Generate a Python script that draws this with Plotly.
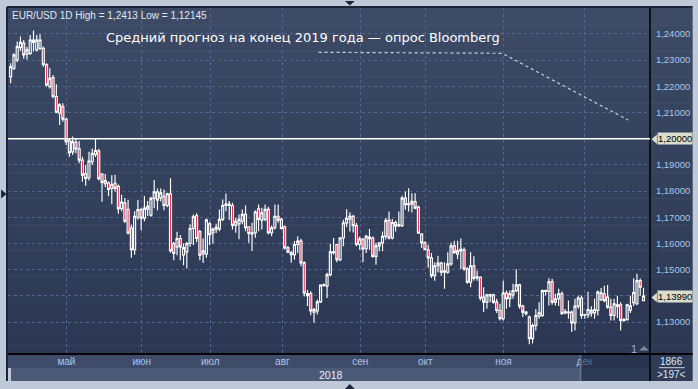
import plotly.graph_objects as go

# ---- data (EUR/USD daily, Apr-Dec 2018) ----
opens = [1.2237,1.2269,1.2301,1.2348,1.2365,1.2323,1.2326,1.2377,1.2339,1.2345,
         1.2345,1.2282,1.2199,1.2233,1.2161,1.2097,1.2122,1.2075,1.1992,1.1950,
         1.1986,1.1961,1.1918,1.1867,1.1851,1.1912,1.1940,1.1953,1.1865,1.1828,
         1.1832,1.1810,1.1830,1.1818,1.1733,1.1755,1.1730,1.1659,1.1576,1.1700,
         1.1729,1.1697,1.1731,1.1708,1.1772,1.1797,1.1774,1.1780,1.1745,1.1790,
         1.1600,1.1587,1.1619,1.1556,1.1568,1.1600,1.1657,1.1706,1.1645,1.1560,
         1.1560,1.1675,1.1640,1.1655,1.1656,1.1692,1.1745,1.1750,1.1745,1.1669,
         1.1675,1.1685,1.1711,1.1664,1.1636,1.1641,1.1732,1.1689,1.1692,1.1730,
         1.1641,1.1660,1.1704,1.1692,1.1664,1.1583,1.1564,1.1557,1.1596,1.1609,
         1.1526,1.1409,1.1409,1.1338,1.1342,1.1377,1.1440,1.1437,1.1481,1.1565,
         1.1596,1.1538,1.1621,1.1678,1.1693,1.1704,1.1668,1.1596,1.1617,1.1580,
         1.1618,1.1621,1.1551,1.1591,1.1602,1.1627,1.1688,1.1621,1.1680,1.1667,
         1.1668,1.1773,1.1748,1.1750,1.1760,1.1739,1.1636,1.1602,1.1576,1.1545,
         1.1477,1.1515,1.1525,1.1490,1.1490,1.1522,1.1591,1.1559,1.1572,1.1576,
         1.1503,1.1452,1.1515,1.1468,1.1471,1.1395,1.1376,1.1400,1.1404,1.1376,
         1.1344,1.1313,1.1411,1.1389,1.1404,1.1420,1.1442,1.1361,1.1338,1.1319,
         1.1237,1.1287,1.1322,1.1325,1.1420,1.1417,1.1454,1.1376,1.1389,1.1408,
         1.1335,1.1336,1.1338,1.1297,1.1361,1.1392,1.1326,1.1328,1.1335,1.1335,
         1.1344,1.1385,1.1408,1.1395,1.1357,1.1325,1.1360,1.1366,1.1306,1.1309,
         1.1345,1.1374,1.1370,1.1458,1.1382]
highs = [1.2288,1.2326,1.2371,1.2390,1.2377,1.2350,1.2396,1.2413,1.2396,1.2399,
         1.2352,1.2288,1.2269,1.2243,1.2208,1.2135,1.2135,1.2078,1.2002,1.2008,
         1.2002,1.1991,1.1931,1.1900,1.1950,1.1963,1.2000,1.1962,1.1868,1.1865,
         1.1837,1.1860,1.1862,1.1825,1.1786,1.1774,1.1767,1.1672,1.1723,1.1766,
         1.1735,1.1781,1.1762,1.1778,1.1842,1.1810,1.1810,1.1806,1.1794,1.1849,
         1.1606,1.1645,1.1632,1.1600,1.1606,1.1673,1.1711,1.1715,1.1651,1.1619,
         1.1694,1.1683,1.1660,1.1675,1.1730,1.1768,1.1791,1.1762,1.1755,1.1698,
         1.1711,1.1730,1.1745,1.1666,1.1679,1.1727,1.1749,1.1736,1.1749,1.1740,
         1.1669,1.1749,1.1749,1.1698,1.1669,1.1590,1.1571,1.1609,1.1628,1.1618,
         1.1532,1.1422,1.1418,1.1354,1.1386,1.1443,1.1447,1.1488,1.1599,1.1621,
         1.1599,1.1625,1.1691,1.1731,1.1719,1.1710,1.1678,1.1627,1.1621,1.1633,
         1.1655,1.1627,1.1602,1.1605,1.1646,1.1697,1.1722,1.1693,1.1688,1.1722,
         1.1782,1.1798,1.1811,1.1792,1.1792,1.1744,1.1640,1.1608,1.1595,1.1564,
         1.1528,1.1553,1.1530,1.1528,1.1566,1.1604,1.1610,1.1610,1.1619,1.1585,
         1.1509,1.1566,1.1551,1.1496,1.1475,1.1433,1.1408,1.1408,1.1408,1.1389,
         1.1370,1.1458,1.1420,1.1420,1.1446,1.1502,1.1446,1.1366,1.1342,1.1325,
         1.1294,1.1350,1.1376,1.1424,1.1424,1.1467,1.1465,1.1408,1.1427,1.1417,
         1.1350,1.1382,1.1344,1.1389,1.1401,1.1401,1.1332,1.1416,1.1360,1.1389,
         1.1420,1.1430,1.1439,1.1441,1.1389,1.1389,1.1400,1.1376,1.1315,1.1370,
         1.1401,1.1467,1.1484,1.1466,1.1431]
lows = [1.2212,1.2262,1.2292,1.2335,1.2305,1.2302,1.2320,1.2333,1.2333,1.2339,
        1.2275,1.2199,1.2192,1.2154,1.2097,1.2052,1.2065,1.1976,1.1931,1.1938,
        1.1944,1.1906,1.1836,1.1820,1.1840,1.1900,1.1930,1.1841,1.1759,1.1815,
        1.1780,1.1750,1.1797,1.1713,1.1723,1.1678,1.1634,1.1545,1.1557,1.1691,
        1.1650,1.1685,1.1705,1.1702,1.1734,1.1727,1.1760,1.1727,1.1738,1.1565,
        1.1536,1.1555,1.1536,1.1517,1.1504,1.1587,1.1594,1.1606,1.1536,1.1525,
        1.1545,1.1594,1.1600,1.1640,1.1647,1.1685,1.1723,1.1690,1.1653,1.1641,
        1.1616,1.1673,1.1647,1.1603,1.1571,1.1622,1.1647,1.1653,1.1685,1.1634,
        1.1628,1.1653,1.1679,1.1653,1.1577,1.1564,1.1526,1.1539,1.1564,1.1513,
        1.1398,1.1361,1.1326,1.1297,1.1329,1.1373,1.1435,1.1392,1.1475,1.1558,
        1.1528,1.1532,1.1589,1.1663,1.1646,1.1642,1.1589,1.1576,1.1528,1.1564,
        1.1576,1.1545,1.1519,1.1570,1.1570,1.1615,1.1615,1.1615,1.1646,1.1663,
        1.1663,1.1729,1.1722,1.1718,1.1731,1.1636,1.1583,1.1574,1.1507,1.1468,
        1.1458,1.1490,1.1477,1.1427,1.1484,1.1515,1.1560,1.1540,1.1503,1.1496,
        1.1446,1.1433,1.1458,1.1458,1.1382,1.1338,1.1351,1.1376,1.1370,1.1335,
        1.1306,1.1306,1.1351,1.1357,1.1389,1.1414,1.1351,1.1319,1.1325,1.1215,
        1.1218,1.1268,1.1313,1.1319,1.1401,1.1363,1.1366,1.1363,1.1361,1.1328,
        1.1330,1.1313,1.1262,1.1268,1.1351,1.1313,1.1313,1.1315,1.1320,1.1313,
        1.1325,1.1380,1.1376,1.1351,1.1306,1.1306,1.1315,1.1268,1.1300,1.1306,
        1.1335,1.1361,1.1364,1.1400,1.1382]
closes = [1.2275,1.2320,1.2352,1.2368,1.2320,1.2339,1.2377,1.2368,1.2377,1.2377,
          1.2284,1.2205,1.2231,1.2161,1.2101,1.2129,1.2075,1.1989,1.1947,1.1989,
          1.1961,1.1918,1.1861,1.1848,1.1915,1.1944,1.1955,1.1847,1.1833,1.1840,
          1.1806,1.1825,1.1810,1.1733,1.1758,1.1685,1.1640,1.1576,1.1704,1.1729,
          1.1697,1.1735,1.1742,1.1772,1.1797,1.1765,1.1793,1.1745,1.1790,1.1572,
          1.1562,1.1619,1.1587,1.1584,1.1600,1.1657,1.1702,1.1619,1.1555,1.1572,
          1.1690,1.1634,1.1655,1.1662,1.1692,1.1745,1.1750,1.1745,1.1669,1.1685,
          1.1692,1.1711,1.1660,1.1638,1.1641,1.1720,1.1692,1.1717,1.1730,1.1641,
          1.1660,1.1704,1.1689,1.1657,1.1583,1.1567,1.1557,1.1596,1.1609,1.1526,
          1.1411,1.1401,1.1342,1.1348,1.1377,1.1441,1.1443,1.1481,1.1568,1.1568,
          1.1538,1.1621,1.1678,1.1696,1.1704,1.1668,1.1596,1.1617,1.1579,1.1627,
          1.1624,1.1551,1.1591,1.1602,1.1627,1.1688,1.1621,1.1680,1.1667,1.1672,
          1.1773,1.1748,1.1751,1.1761,1.1735,1.1640,1.1602,1.1576,1.1545,1.1477,
          1.1515,1.1525,1.1490,1.1496,1.1522,1.1591,1.1566,1.1572,1.1578,1.1503,
          1.1452,1.1515,1.1467,1.1473,1.1391,1.1376,1.1404,1.1404,1.1376,1.1344,
          1.1313,1.1411,1.1389,1.1408,1.1420,1.1442,1.1361,1.1338,1.1332,1.1237,
          1.1287,1.1325,1.1335,1.1420,1.1417,1.1454,1.1376,1.1389,1.1408,1.1332,
          1.1340,1.1338,1.1297,1.1361,1.1392,1.1325,1.1328,1.1348,1.1345,1.1348,
          1.1414,1.1412,1.1382,1.1357,1.1325,1.1370,1.1366,1.1306,1.1309,1.1366,
          1.1362,1.1413,1.1458,1.1433,1.1399]

month_labels = ["май", "июн", "июл", "авг", "сен", "окт", "ноя", "дек"]
month_pos = [17.1, 40.2, 61.2, 83.3, 107.2, 127.1, 151.1, 175.9]
price_ticks = [1.13, 1.14, 1.15, 1.16, 1.17, 1.18, 1.19, 1.20, 1.21, 1.22, 1.23, 1.24]
level_line = 1.20
last_close = 1.1399
header_text = "EUR/USD 1D High = 1,2413 Low = 1,12145"
title_text = "Средний прогноз на конец 2019 года — опрос Bloomberg"
year_label = "2018"


def fmt_price(v):
    return ("%.5f" % v).replace(".", ",")


# tick labels hidden behind the two price marker boxes
hidden_ticks = [1.14, 1.20]
price_ticktext = ["" if any(abs(v - h) < 1e-9 for h in hidden_ticks) else fmt_price(v) for v in price_ticks]

# ---- pixel helpers for decorations ----
W, H = 698, 389
L, R, T, B = 8, 43, 8, 35
PW, PH = W - L - R, H - T - B


def px(x):
    return (x - L) / PW


def py(y):
    return (H - B - y) / PH


shapes = []
# gradient background for plot + right axis area
N = 40
c0 = (60, 74, 102)
c1 = (44, 56, 83)
for i in range(N):
    f = i / (N - 1)
    col = "rgb(%d,%d,%d)" % tuple(round(a + (b - a) * f) for a, b in zip(c0, c1))
    y0 = T + PH * i / N
    y1 = T + PH * (i + 1) / N + 0.5
    shapes.append(dict(type="rect", xref="paper", yref="paper", x0=px(L), x1=px(W),
                       y0=py(y1), y1=py(y0), fillcolor=col, line=dict(width=0), layer="below"))

# bottom rows
shapes.append(dict(type="rect", xref="paper", yref="paper", x0=px(L), x1=px(655), y0=py(368), y1=py(354),
                   fillcolor="#3e4c69", line=dict(width=0), layer="below"))
shapes.append(dict(type="rect", xref="paper", yref="paper", x0=px(11), x1=px(655), y0=py(381), y1=py(368),
                   fillcolor="#4b5a77", line=dict(width=0), layer="below"))
shapes.append(dict(type="rect", xref="paper", yref="paper", x0=px(585), x1=px(655), y0=py(381), y1=py(354),
                   fillcolor="rgba(22,32,58,0.55)", line=dict(width=0), layer="above"))
shapes.append(dict(type="line", xref="paper", yref="paper", x0=px(585), x1=px(585), y0=py(381), y1=py(354),
                   line=dict(color="#6a7690", width=1.5), layer="above"))
shapes.append(dict(type="rect", xref="paper", yref="paper", x0=px(655), x1=px(W), y0=py(381), y1=py(354),
                   fillcolor="#2f3b57", line=dict(width=0), layer="below"))
shapes.append(dict(type="line", xref="paper", yref="paper", x0=px(664), x1=px(690), y0=py(367.7), y1=py(367.7),
                   line=dict(color="#c8d4e4", width=1), layer="above"))
# frame lines
shapes.append(dict(type="line", xref="paper", yref="paper", x0=px(L), x1=px(W), y0=py(354), y1=py(354),
                   line=dict(color="#000000", width=2), layer="above"))
shapes.append(dict(type="line", xref="paper", yref="paper", x0=px(655), x1=px(655), y0=py(381), y1=py(T),
                   line=dict(color="#000000", width=1.5), layer="above"))
shapes.append(dict(type="line", xref="paper", yref="paper", x0=px(7), x1=px(7), y0=py(381), y1=py(7),
                   line=dict(color="#1c2538", width=2), layer="above"))
shapes.append(dict(type="line", xref="paper", yref="paper", x0=px(7), x1=px(W), y0=py(7), y1=py(7),
                   line=dict(color="#1c2538", width=2), layer="above"))
# horizontal level line
shapes.append(dict(type="line", xref="paper", yref="y", x0=0, x1=1, y0=level_line, y1=level_line,
                   line=dict(color="#ffffff", width=1.6), layer="above"))
# forecast dotted line
shapes.append(dict(type="path", xref="paper", yref="paper",
                   path="M %f,%f L %f,%f L %f,%f" % (px(321), py(52.3), px(506), py(53.3), px(633), py(120)),
                   line=dict(color="#c9d1dd", width=1.2, dash="dot"), layer="above"))


def tri(pts, color):
    p = "M " + " L ".join("%f,%f" % (px(a), py(b)) for a, b in pts) + " Z"
    return dict(type="path", xref="paper", yref="paper", path=p, fillcolor=color,
                line=dict(width=0), layer="above")


shapes.append(tri([(1, 189.5), (6.5, 194), (1, 198.5)], "#1c2538"))
shapes.append(tri([(347.5, 1), (357.5, 1), (352.5, 5.5)], "#1c2538"))
shapes.append(tri([(347.5, 389), (357.5, 389), (352.5, 384)], "#1c2538"))
shapes.append(tri([(644, 350.5), (654, 350.5), (649, 346)], "#7d879a"))
# price label pointers
for yv in (139.3, 297.5):
    shapes.append(tri([(656.5, yv), (662, yv - 4.8), (662, yv + 4.8)], "#dadccd"))

annotations = [
    dict(text=header_text, xref="paper", yref="paper", x=px(10), y=py(15.5), xanchor="left", yanchor="middle",
         showarrow=False, font=dict(family="Liberation Sans", size=10, color="#e2e8f0")),
    dict(text=title_text, xref="paper", yref="paper", x=px(305.5), y=py(37.5), xanchor="center",
         yanchor="middle", showarrow=False, font=dict(family="DejaVu Sans", size=13, color="#ffffff")),
    dict(text=year_label, xref="paper", yref="paper", x=px(334), y=py(374.5), xanchor="center",
         yanchor="middle", showarrow=False, font=dict(family="Liberation Sans", size=10.5, color="#e6eef8")),
    dict(text="1866", xref="paper", yref="paper", x=px(677), y=py(361), xanchor="center",
         yanchor="middle", showarrow=False, font=dict(family="Liberation Sans", size=10, color="#dfe8f4")),
    dict(text="&gt;197&lt;", xref="paper", yref="paper", x=px(677), y=py(374.5), xanchor="center",
         yanchor="middle", showarrow=False, font=dict(family="Liberation Sans", size=10, color="#dfe8f4")),
    dict(text="1", xref="paper", yref="paper", x=px(639), y=py(348.5), xanchor="center",
         yanchor="middle", showarrow=False, font=dict(family="Liberation Sans", size=11, color="#8db6ee")),
    dict(text=fmt_price(level_line), xref="paper", yref="y", x=px(662), y=level_line, xanchor="left",
         yanchor="middle", showarrow=False, bgcolor="#dadccd", borderpad=0,
         font=dict(family="Liberation Sans", size=9.5, color="#000000")),
    dict(text=fmt_price(last_close), xref="paper", yref="y", x=px(662), y=last_close, xanchor="left",
         yanchor="middle", showarrow=False, bgcolor="#dadccd", borderpad=0,
         font=dict(family="Liberation Sans", size=9.5, color="#000000")),
]

fig = go.Figure()
fig.add_trace(go.Candlestick(
    x=list(range(len(opens))), open=opens, high=highs, low=lows, close=closes,
    increasing=dict(line=dict(color="#ffffff", width=1.15), fillcolor="#35435f"),
    decreasing=dict(line=dict(color="#ffffff", width=1.15), fillcolor="#e3163c"),
    whiskerwidth=0, hoverinfo="skip", showlegend=False,
))

fig.update_layout(
    width=W, height=H,
    margin=dict(l=L, r=R, t=T, b=B, pad=0),
    paper_bgcolor="#bfc9d7",
    plot_bgcolor="rgba(0,0,0,0)",
    separators=", ",
    boxgap=0.12,
    shapes=shapes,
    annotations=annotations,
    showlegend=False,
    xaxis=dict(
        type="linear", range=[-0.82, 196.0], rangeslider=dict(visible=False),
        tickmode="array", tickvals=month_pos, ticktext=month_labels,
        showgrid=True, gridcolor="#56658a", griddash="3px,3px", gridwidth=1,
        ticks="", zeroline=False, showline=False,
        tickfont=dict(family="Liberation Sans", size=10, color="#a8c6ee"),
        fixedrange=True,
    ),
    yaxis=dict(
        side="right", range=[1.1178, 1.2499],
        tickmode="array", tickvals=price_ticks, ticktext=price_ticktext,
        showgrid=True, gridcolor="#56658a", griddash="3px,3px", gridwidth=1,
        ticks="outside", ticklen=3, tickcolor="rgba(0,0,0,0)", zeroline=False, showline=False,
        tickfont=dict(family="Liberation Sans", size=9.5, color="#a8c6ee"),
        fixedrange=True,
    ),
)

fig.write_html("out.html", config=dict(displayModeBar=False, staticPlot=True))
